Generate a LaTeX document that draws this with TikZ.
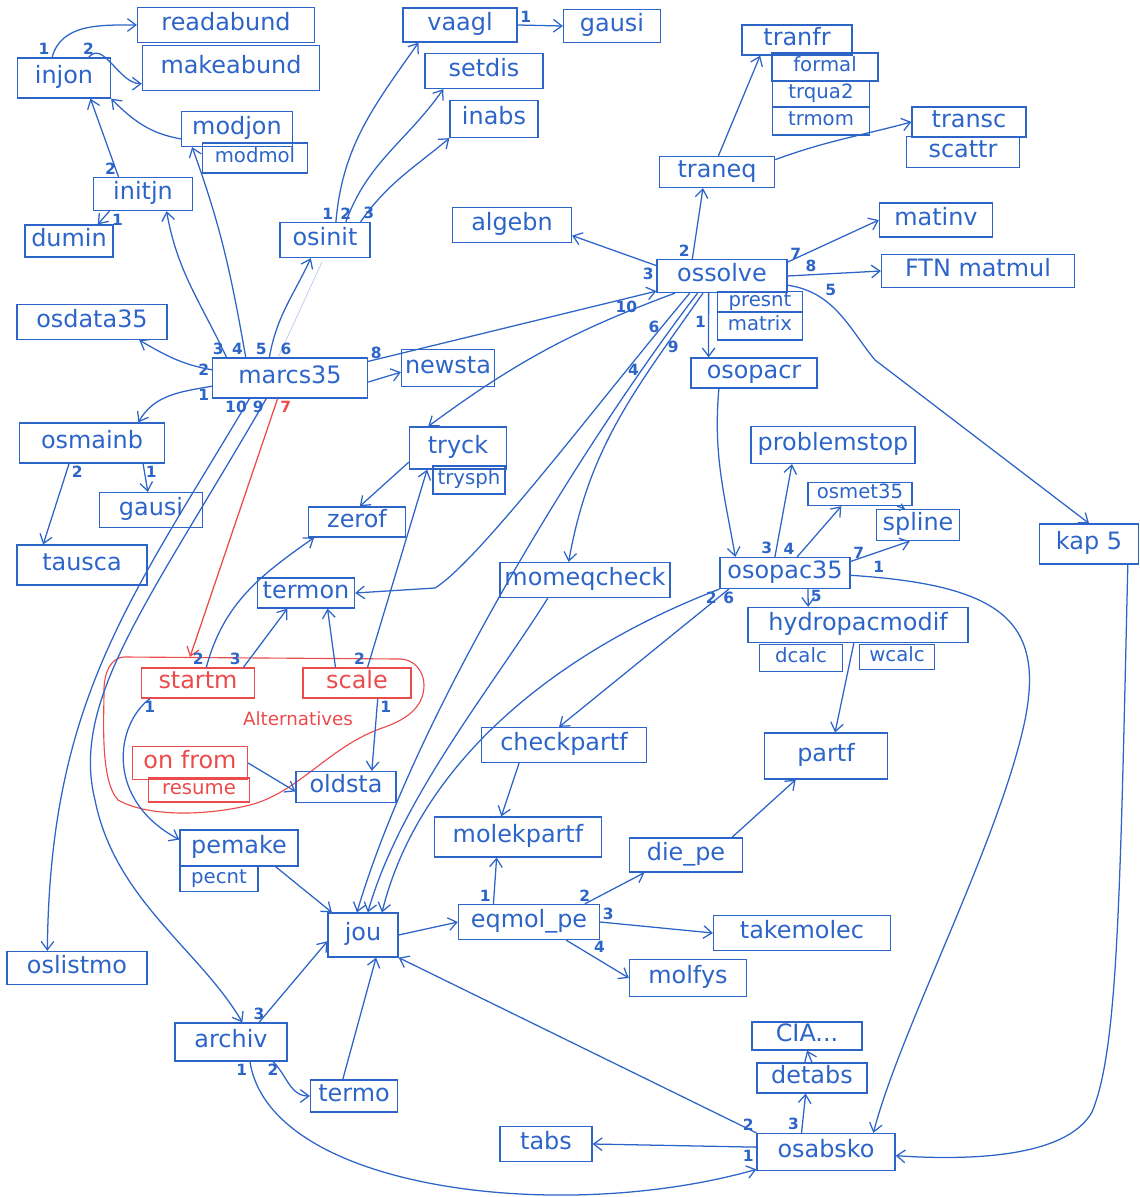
\documentclass[tikz,border=0pt]{standalone}
\usepackage{fontspec}
\setmainfont{DejaVu Sans}
\usetikzlibrary{arrows.meta}
\definecolor{ink}{RGB}{45,100,200}
\definecolor{redink}{RGB}{235,75,75}
\tikzset{
    bw/.style={minimum width=#1*0.025cm},
    bh/.style={minimum height=#1*0.025cm},
    box/.style={draw=ink,line width=0.9pt,text=ink,inner sep=1pt,
        font=\fontsize{17}{17}\selectfont,text height=12pt,text depth=3.5pt},
    subbox/.style={box,font=\fontsize{14}{14}\selectfont,text height=10pt,text depth=3pt},
    altbox/.style={box,draw=redink,text=redink},
    link/.style={->,ink,line width=0.9pt},
    tinylink/.style={-{Straight Barb[length=3pt,width=5pt]},ink,line width=0.9pt},
    altlink/.style={->,redink,line width=0.9pt},
    num/.style={ink,font=\fontsize{11}{11}\selectfont\bfseries,inner sep=1.5pt},
    altnum/.style={num,text=redink},
    faint/.style={ink!30,line width=0.6pt},
    altzone/.style={redink,line width=0.8pt}
}

\begin{document}
\begin{tikzpicture}[x=0.025cm,y=-0.025cm,>={Straight Barb[length=6pt,width=9pt]}]
    \useasboundingbox (0,0) rectangle (1139,1197);
    % Upper left: injon and friends
    \node[box,bw=177,bh=35] (readabund) at (226,25) {readabund};
    \node[box,bw=177,bh=45] (makeabund) at (231,68) {makeabund};
    \node[box,bw=93,bh=40] (injon) at (64,78) {injon};
    \node[box,bw=111,bh=35] (modjon) at (237,129) {modjon};
    \node[subbox,bw=105,bh=30] (modmol) at (255,158) {modmol};
    \node[box,bw=99,bh=33] (initjn) at (143,194) {initjn};
    \node[box,bw=88,bh=32] (dumin) at (69,241) {dumin};
    \node[box,bw=90,bh=35] (osinit) at (325,240) {osinit};
    \node[box,bw=114,bh=34] (vaagl) at (460,25) {vaagl};
    \node[box,bw=97,bh=33] (gausitop) at (612,26) {gausi};
    \node[box,bw=118,bh=35] (setdis) at (484,71) {setdis};
    \node[box,bw=88,bh=37] (inabs) at (494,119) {inabs};
    \node[box,bw=119,bh=35] (algebn) at (512,225) {algebn};
    % Upper right: transport and solver
    \node[box,bw=110,bh=30] (tranfr) at (797,40) {tranfr};
    \node[subbox,bw=106,bh=28] (formal) at (825,67) {formal};
    \node[subbox,bw=97,bh=27] (trqua) at (821,94) {trqua2};
    \node[subbox,bw=97,bh=28] (trmom) at (821,121) {trmom};
    \node[box,bw=115,bh=31] (traneq) at (717,172) {traneq};
    \node[box,bw=114,bh=30] (transc) at (969,122) {transc};
    \node[box,bw=113,bh=31] (scattr) at (963,152) {scattr};
    \node[box,bw=113,bh=34] (matinv) at (936,220) {matinv};
    \node[box,bw=193,bh=33] (matmul) at (978,271) {FTN matmul};
    \node[box,bw=130,bh=33] (ossolve) at (722,276) {ossolve};
    \node[subbox,bw=85,bh=21] (presnt) at (760,302) {presnt};
    \node[subbox,bw=85,bh=28] (matrix) at (760,326) {matrix};
    \node[box,bw=126,bh=30] (osopacr) at (754,373) {osopacr};
    % Main program
    \node[box,bw=150,bh=35] (osdata) at (92,322) {osdata35};
    \node[box,bw=155,bh=40] (marcs) at (290,378) {marcs35};
    \node[box,bw=93,bh=37] (newsta) at (448,368) {newsta};
    \node[box,bw=145,bh=40] (osmainb) at (92,443) {osmainb};
    \node[box,bw=103,bh=35] (gausi) at (151,510) {gausi};
    \node[box,bw=130,bh=40] (tausca) at (82,565) {tausca};
    % Middle
    \node[box,bw=97,bh=42] (tryck) at (458,448) {tryck};
    \node[subbox,bw=72,bh=28] (trysph) at (469,480) {trysph};
    \node[box,bw=97,bh=30] (zerof) at (357,522) {zerof};
    \node[box,bw=97,bh=30] (termon) at (306,593) {termon};
    \node[box,bw=170,bh=35] (momeqcheck) at (585,580) {momeqcheck};
    \node[box,bw=164,bh=37] (problemstop) at (833,445) {problemstop};
    \node[subbox,bw=104,bh=23] (osmet) at (860,494) {osmet35};
    \node[box,bw=83,bh=31] (spline) at (918,525) {spline};
    \node[box,bw=99,bh=40] (kap) at (1089,544) {kap 5};
    \node[box,bw=130,bh=31] (osopac) at (785,573) {osopac35};
    \node[box,bw=220,bh=35] (hydro) at (858,625) {hydropacmodif};
    \node[subbox,bw=83,bh=27] (dcalc) at (801,658) {dcalc};
    \node[subbox,bw=75,bh=25] (wcalc) at (897,657) {wcalc};
    \node[box,bw=123,bh=46] (partf) at (826,756) {partf};
    \node[box,bw=165,bh=35] (checkpartf) at (564,745) {checkpartf};
    \node[box,bw=167,bh=40] (molekpartf) at (518,837) {molekpartf};
    \node[box,bw=113,bh=34] (diepe) at (686,855) {die\_pe};
    % Alternatives (red)
    \node[altbox,bw=113,bh=30] (startm) at (198,683) {startm};
    \node[altbox,bw=108,bh=30] (scale) at (357,683) {scale};
    \node[altbox,bw=115,bh=33] (onfrom) at (190,763) {on from};
    \node[subbox,draw=redink,text=redink,bw=101,bh=24] (resume) at (199,790) {resume};
    \node[text=redink,font=\fontsize{13}{13}\selectfont] (alttext) at (298,719) {Alternatives};
    \draw[altzone] (125,657) -- (400,659) to[out=0,in=90] (424,685) to[out=-90,in=20] (385,727)
        .. controls (330,745) and (300,792) .. (250,805) .. controls (210,815) and (150,818) .. (118,800)
        .. controls (100,780) and (104,720) .. (104,690) to[out=90,in=180] (125,657);
    \coordinate (altin) at (190,657);
    \node[box,bw=100,bh=31] (oldsta) at (346,787) {oldsta};
    % Lower part
    \node[box,bw=118,bh=36] (pemake) at (239,848) {pemake};
    \node[subbox,bw=78,bh=25] (pecnt) at (219,879) {pecnt};
    \node[box,bw=140,bh=33] (oslistmo) at (77,968) {oslistmo};
    \node[box,bw=70,bh=44] (jou) at (363,935) {jou};
    \node[box,bw=141,bh=35] (eqmolpe) at (529,922) {eqmol\_pe};
    \node[box,bw=177,bh=35] (takemolec) at (802,933) {takemolec};
    \node[box,bw=117,bh=37] (molfys) at (688,978) {molfys};
    \node[box,bw=112,bh=38] (archiv) at (231,1042) {archiv};
    \node[box,bw=87,bh=32] (termo) at (354,1096) {termo};
    \node[box,bw=92,bh=35] (tabs) at (546,1144) {tabs};
    \node[box,bw=110,bh=28] (cia) at (807,1036) {CIA...};
    \node[box,bw=110,bh=30] (detabs) at (812,1078) {detabs};
    \node[box,bw=138,bh=37] (osabsko) at (826,1152) {osabsko};

    % injon calls
    \draw[link] (injon.120) node[num,above left]{1} to[out=75,in=180] (readabund.west);
    \draw[link] (injon.40) node[num,above]{2} to[out=50,in=180] (makeabund.190);
    \draw[link] (initjn.145) node[num,above left]{2} -- (injon.-38);
    \draw[link] (modjon.-170) to[out=170,in=-45] (injon.south east);
    \draw[link] (initjn.-153) node[num,below right]{1} -- (dumin.30);
    % marcs35 calls
    \draw[link] (marcs.162) node[num,above left]{3} to[out=115,in=-80] (initjn.-36);
    \draw[link] (marcs.155) node[num,above left]{4} to[out=100,in=-70] (modjon.-158);
    \draw[link] (marcs.135) node[num,above left]{5} to[out=80,in=-115] (osinit.-128);
    \coordinate (ghost) at (322,262);
    \draw[faint] (marcs.120) node[num,above right]{6} -- (ghost);
    \draw[link] (marcs.174) node[num,left]{2} to[out=170,in=-30] (osdata.-21);
    \draw[link] (marcs.186) node[num,below left]{1} to[out=190,in=60] (osmainb.24);
    \draw[link] (marcs.12) node[num,above right]{8} -- (ossolve.-167);
    \draw[link] (marcs.-3) -- (newsta.185);
    \draw[link] (marcs.-153) node[num,below left]{10} .. controls (130,600) and (50,700) .. (oslistmo.150);
    \draw[link] (marcs.-139) node[num,below left]{9} .. controls (150,600) and (70,700) .. (95,800)
        .. controls (115,900) and (200,950) .. (archiv.60);
    \draw[altlink] (marcs.-121) node[altnum,below right]{7} -- (altin);
    % osmainb and osinit calls
    \draw[link] (osmainb.-22) node[num,below right]{1} -- (gausi.100);
    \draw[link] (osmainb.-138) node[num,below right]{2} -- (tausca.152);
    \draw[link] (osinit.59) node[num,above left]{1} to[out=85,in=-125] (vaagl.-157);
    \draw[link] (osinit.41) node[num,above]{2} to[out=70,in=-125] (setdis.-156);
    \draw[link] (osinit.27) node[num,above right]{3} to[out=55,in=-140] (inabs.south west);
    \draw[link] (vaagl.east) node[num,above right]{1} -- (gausitop.west);
    % ossolve calls
    \draw[link] (ossolve.171) node[num,below left]{3} -- (algebn.-10);
    \draw[link] (ossolve.150) node[num,above left]{2} -- (traneq.-131);
    \draw[link] (traneq.85) -- (tranfr.-157);
    \draw[link] (traneq.12) to[out=20,in=195] (transc.west);
    \draw[link] (ossolve.12) node[num,above right]{7} -- (matinv.west);
    \draw[link] (ossolve.east) -- (matmul.west) node[num,pos=0.25,above]{8};
    \draw[link] (ossolve.-8) .. controls (835,292) and (850,330) .. (875,360) node[num,pos=0.3,above right]{5}
        -- (kap.north);
    \draw[link] (ossolve.-128) -- (osopacr.161) node[num,pos=0.45,left]{1};
    \draw[link] (osopacr.-156) to[out=-95,in=100] (osopac.162);
    \draw[link] (ossolve.-160) to[bend right=8] node[num,pos=0.12,left]{10} (tryck.144);
    \draw[link] (ossolve.-152) .. controls (600,400) and (480,560) .. (435,588) node[num,pos=0.1,left]{6}
        -- (termon.east);
    \draw[link] (ossolve.-145) .. controls (600,420) and (420,700) .. (jou.105) node[num,pos=0.17,left]{4};
    \draw[link] (ossolve.-138) to[out=-125,in=80] node[num,pos=0.2,right]{9} (momeqcheck.132);
    % osopac35 calls
    \draw[link] (osopac.122) node[num,above left]{3} -- (problemstop.-155);
    \draw[link] (osopac.53) node[num,above left]{4} -- (osmet.-147);
    \draw[link] (osopac.10) node[num,above right]{7} -- (spline.-117);
    \draw[tinylink] (osmet.-18) -- (spline.129);
    \draw[link] (osopac.-35) -- (hydro.160) node[num,pos=0.4,right]{5};
    \draw[link] (osopac.-2) node[num,above right,xshift=0.5cm]{1} .. controls (1000,585) and (1045,620) .. (1025,720)
        .. controls (1000,840) and (900,1030) .. (osabsko.22);
    \draw[link] (osopac.-164) node[num,below]{6} -- (checkpartf.105);
    \draw[link] (osopac.south west) node[num,below left]{2} .. controls (560,650) and (420,760) .. (jou.50);
    \draw[link] (hydro.-103) -- (partf.69);
    \draw[link] (checkpartf.-158) -- (molekpartf.129);
    % eqmol_pe calls
    \draw[link] (jou.east) -- (eqmolpe.west);
    \draw[link] (eqmolpe.153) node[num,above left]{1} -- (molekpartf.-136);
    \draw[link] (eqmolpe.18) node[num,above]{2} -- (diepe.-157);
    \draw[link] (eqmolpe.east) node[num,above right]{3} -- (takemolec.west);
    \draw[link] (eqmolpe.-26) -- (molfys.west) node[num,pos=0.4,above right]{4};
    \draw[link] (diepe.21) -- (partf.-142);
    % into jou
    \draw[link] (pemake.-27) -- (jou.144);
    \draw[link] (momeqcheck.-154) .. controls (490,690) and (400,800) .. (jou.78);
    \draw[link] (archiv.35) node[num,above]{3} -- (jou.190);
    \draw[link] (termo.124) -- (jou.-60);
    \draw[link] (osabsko.north west) node[num,above left]{2} -- (jou.south east);
    % archiv and osabsko
    \draw[link] (archiv.-25) node[num,below]{2} to[out=-45,in=180] (termo.west);
    \draw[link] (archiv.-46) node[num,below left]{1} .. controls (270,1190) and (560,1225) .. (osabsko.-166);
    \draw[link] (osabsko.142) node[num,above left]{3} -- (detabs.-112);
    \draw[link] (detabs.north) -- (cia.south);
    \draw[link] (osabsko.176) node[num,below left]{1} -- (tabs.east);
    \draw[link] (kap.-28) .. controls (1120,900) and (1118,1050) .. (1092,1112)
        .. controls (1065,1160) and (960,1160) .. (osabsko.-3);
    % alternatives calls
    \draw[link] (startm.62) node[num,above left]{2} to[out=75,in=-145] (zerof.-160);
    \draw[link] (startm.19) node[num,above left]{3} -- (termon.-140);
    \draw[link] (startm.-162) node[num,below]{1} .. controls (115,725) and (105,800) .. (pemake.172);
    \draw[link] (scale.144) -- (termon.-36);
    \draw[link] (scale.56) node[num,above left]{2} -- (tryck.-145);
    \draw[link] (scale.-37) node[num,below right]{1} -- (oldsta.32);
    \draw[link] (onfrom.east) -- (oldsta.-175);
    \draw[link] (tryck.-164) -- (zerof.80);
\end{tikzpicture}
\end{document}
